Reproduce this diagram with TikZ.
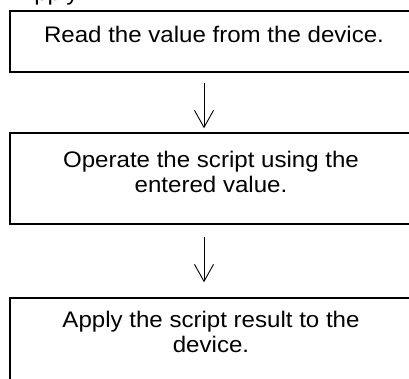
\documentclass[tikz,border=0pt]{standalone}
\usepackage{fontspec}
\setmainfont{Liberation Sans}[FakeStretch=1.07]
\usetikzlibrary{arrows.meta}
\begin{document}
\begin{tikzpicture}[x=1pt,y=1pt,
  box/.style={draw=black, line width=1.4pt, rectangle, inner sep=0pt},
  lbl/.style={inner sep=0pt, align=center, font=\fontsize{22.5}{24.6}\selectfont},
  flow/.style={line width=0.9pt, -{Straight Barb[length=17pt,width=19pt,line width=0.9pt]}}]
\useasboundingbox (0,0) rectangle (409,-378);
\clip (0,0) rectangle (409,-378);
% partially cropped heading
\node[lbl, anchor=base west] (head) at (18,-0.5) {Apply};
% boxes
\node[box, minimum width=402pt, minimum height=61pt] (b1) at (211,-41.5) {};
\node[box, minimum width=402pt, minimum height=91pt] (b2) at (211,-178.5) {};
\node[box, minimum width=402pt, minimum height=110pt] (b3) at (211,-353) {};
% texts
\node[lbl, anchor=base] (t1) at (214,-42.7) {Read the value from the device.};
\node[lbl, anchor=north] (t2) at (211,-151) {Operate the script using the\\entered value.};
\node[lbl, anchor=north] (t3) at (211,-311) {Apply the script result to the\\device.};
% connectors
\draw[flow] ([xshift=-7pt,yshift=-10pt]b1.south) -- ([xshift=-7pt,yshift=4pt]b2.north);
\draw[flow] ([xshift=-7pt,yshift=-12pt]b2.south) -- ([xshift=-7pt,yshift=15pt]b3.north);
\end{tikzpicture}
\end{document}
